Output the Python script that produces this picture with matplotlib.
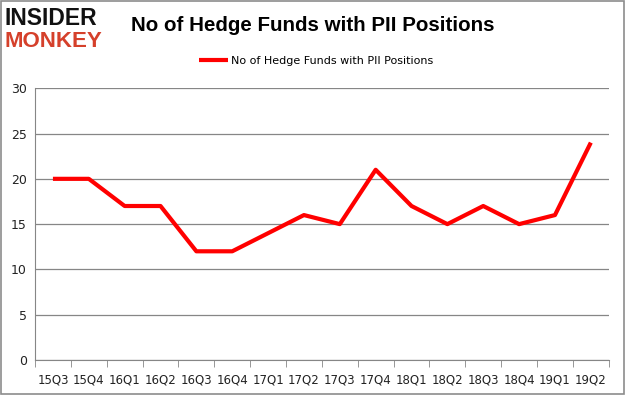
import matplotlib
matplotlib.use("Agg")
import matplotlib.pyplot as plt
from matplotlib.patches import Rectangle

quarters = ["15Q3", "15Q4", "16Q1", "16Q2", "16Q3", "16Q4", "17Q1", "17Q2",
            "17Q3", "17Q4", "18Q1", "18Q2", "18Q3", "18Q4", "19Q1", "19Q2"]
funds = [20, 20, 17, 17, 12, 12, 14, 16, 15, 21, 17, 15, 17, 15, 16, 24]
yticks = [0, 5, 10, 15, 20, 25, 30]
series_name = "No of Hedge Funds with PII Positions"

fig = plt.figure(figsize=(6.25, 3.95), dpi=100)
fig.patch.set_facecolor("white")
fig.patches.append(Rectangle((0.0015, 0.0025), 0.997, 0.995, transform=fig.transFigure,
                             fill=False, edgecolor="#8c8c8c", linewidth=1.2))

ax = fig.add_axes([0.056, 0.0886, 0.918, 0.688])
x = list(range(len(quarters)))
ax.plot(x, funds, color="#ff0000", linewidth=3, solid_joinstyle="round",
        solid_capstyle="butt", label=series_name)
ax.set_xlim(-0.5, len(quarters) - 0.5)
ax.set_ylim(0, 30)
ax.set_yticks(yticks)
ax.set_yticklabels([str(v) for v in yticks], fontsize=9, color="#222222")
ax.set_xticks(x)
ax.set_xticklabels(quarters, fontsize=8.5, color="#222222")
ax.set_xticks([i - 0.5 for i in range(len(quarters) + 1)], minor=True)
ax.tick_params(axis="x", which="major", length=0, pad=10)
ax.tick_params(axis="x", which="minor", length=5, color="#868686", direction="out")
ax.tick_params(axis="y", length=0, pad=6)
ax.grid(axis="y", color="#868686", linewidth=0.9)
ax.set_axisbelow(True)
for s in ["top", "right"]:
    ax.spines[s].set_visible(False)
ax.spines["left"].set_color("#868686")
ax.spines["bottom"].set_color("#868686")

fig.text(0.50, 0.935, series_name, ha="center", va="center", fontsize=14.8,
         fontweight="bold", color="#000000", family="Liberation Sans")
leg = fig.legend(loc="center", bbox_to_anchor=(0.506, 0.845), frameon=False,
                 fontsize=8, handlelength=2.6, handletextpad=0.3)

fig.text(0.008, 0.953, "INSIDER", ha="left", va="center", fontsize=16.5,
         fontweight="bold", color="#111111", family="Liberation Sans")
fig.text(0.008, 0.895, "MONKEY", ha="left", va="center", fontsize=16,
         fontweight="bold", color="#d5402b", family="Liberation Sans")

fig.savefig("out.png", dpi=100)
